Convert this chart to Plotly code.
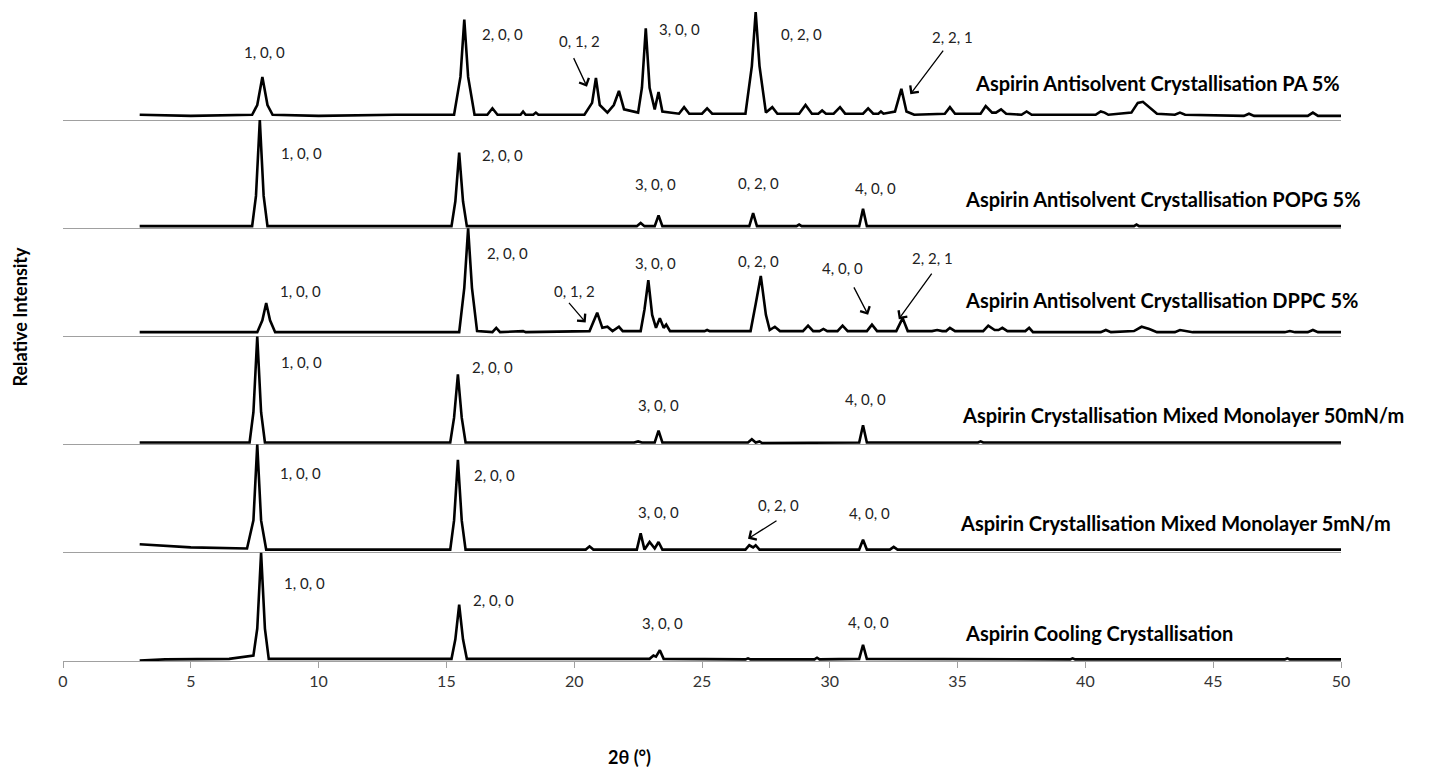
import plotly.graph_objects as go

# ---------------- data (2theta in degrees, relative intensity 0-1 per pattern) ----------------
series_names = [
    "Aspirin Cooling Crystallisation",
    "Aspirin Crystallisation Mixed Monolayer 5mN/m",
    "Aspirin Crystallisation Mixed Monolayer 50mN/m",
    "Aspirin Antisolvent Crystallisation DPPC 5%",
    "Aspirin Antisolvent Crystallisation POPG 5%",
    "Aspirin Antisolvent Crystallisation PA 5%",
]

cool_x = [3.0, 4.0, 6.5, 7.45, 7.6, 7.75, 7.9, 8.05, 15.2, 15.35, 15.5, 15.65, 15.8, 22.95, 23.1, 23.2,
          23.35, 23.5, 26.7, 26.8, 26.9, 29.4, 29.5, 29.6, 31.15, 31.3, 31.45, 39.4, 39.5, 39.6,
          47.8, 47.9, 48.0, 50.0]
cool_y = [0.005, 0.015, 0.02, 0.05, 0.3, 1.0, 0.3, 0.02, 0.02, 0.2, 0.52, 0.2, 0.02, 0.02, 0.05, 0.04,
          0.10, 0.02, 0.015, 0.025, 0.015, 0.015, 0.03, 0.015, 0.02, 0.15, 0.02, 0.015, 0.025, 0.015,
          0.015, 0.025, 0.015, 0.015]

mm5_x = [3.0, 4.0, 5.0, 7.2, 7.45, 7.6, 7.75, 7.95, 12.0, 15.15, 15.3, 15.45, 15.6, 15.75, 20.45,
         20.6, 20.75, 22.45, 22.6, 22.75, 22.95, 23.15, 23.3, 23.45, 26.7, 26.85, 27.0, 27.1, 27.25,
         31.15, 31.3, 31.45, 32.35, 32.5, 32.65, 50.0]
mm5_y = [0.08, 0.065, 0.05, 0.04, 0.3, 1.0, 0.3, 0.03, 0.03, 0.03, 0.3, 0.86, 0.3, 0.03, 0.03,
         0.06, 0.03, 0.03, 0.18, 0.03, 0.10, 0.04, 0.10, 0.03, 0.03, 0.07, 0.05, 0.07, 0.03,
         0.03, 0.12, 0.03, 0.03, 0.055, 0.03, 0.03]

mm50_x = [3.0, 7.3, 7.45, 7.6, 7.75, 7.9, 15.15, 15.3, 15.45, 15.6, 15.75, 22.35, 22.5, 22.65,
          23.15, 23.3, 23.45, 26.8, 26.95, 27.1, 27.25, 27.35, 31.15, 31.3, 31.45, 35.8, 35.9,
          36.0, 50.0]
mm50_y = [0.02, 0.02, 0.3, 1.0, 0.3, 0.02, 0.02, 0.25, 0.65, 0.25, 0.02, 0.02, 0.03, 0.02,
          0.02, 0.13, 0.02, 0.02, 0.05, 0.02, 0.03, 0.015, 0.02, 0.18, 0.02, 0.02, 0.03,
          0.02, 0.02]

dppc_x = [3.0, 7.6, 7.8, 7.95, 8.1, 8.3, 15.5, 15.7, 15.85, 16.0, 16.2, 16.8, 16.95, 17.1, 18.0,
          18.1, 20.6, 20.9, 21.1, 21.3, 21.5, 21.75, 21.9, 22.6, 22.75, 22.9, 23.05, 23.2, 23.35,
          23.5, 23.6, 23.75, 25.1, 25.2, 25.3, 26.9, 27.1, 27.3, 27.5, 27.65, 27.85, 28.05, 28.95,
          29.15, 29.35, 29.6, 29.75, 29.9, 30.3, 30.5, 30.7, 31.45, 31.65, 31.85, 32.6, 32.85,
          33.05, 34.0, 34.2, 34.4, 34.55, 34.7, 34.9, 36.0, 36.2, 36.45, 36.6, 36.75, 36.95,
          37.65, 37.8, 37.95, 40.6, 40.8, 41.0, 41.9, 42.2, 42.5, 42.8, 43.5, 43.7, 43.9, 44.2,
          47.8, 48.0, 48.2, 48.7, 48.9, 49.1, 50.0]
dppc_y = [0.04, 0.04, 0.15, 0.31, 0.15, 0.04, 0.04, 0.45, 1.0, 0.45, 0.05, 0.04, 0.08, 0.04, 0.05,
          0.04, 0.05, 0.22, 0.08, 0.09, 0.05, 0.09, 0.05, 0.05, 0.25, 0.52, 0.2, 0.08, 0.17,
          0.08, 0.11, 0.05, 0.05, 0.06, 0.05, 0.05, 0.3, 0.56, 0.2, 0.06, 0.09, 0.05, 0.05,
          0.10, 0.05, 0.05, 0.07, 0.05, 0.05, 0.10, 0.05, 0.05, 0.11, 0.05, 0.05, 0.17,
          0.05, 0.05, 0.06, 0.05, 0.05, 0.08, 0.05, 0.05, 0.10, 0.06, 0.06, 0.08, 0.05,
          0.05, 0.08, 0.04, 0.04, 0.06, 0.04, 0.05, 0.09, 0.07, 0.04, 0.04, 0.06, 0.05, 0.04,
          0.04, 0.05, 0.04, 0.04, 0.06, 0.04, 0.04]

popg_x = [3.0, 7.4, 7.55, 7.7, 7.85, 8.0, 15.2, 15.35, 15.5, 15.65, 15.8, 22.45, 22.6, 22.75,
          23.15, 23.3, 23.45, 26.85, 27.0, 27.15, 28.7, 28.8, 28.9, 31.15, 31.3, 31.45, 41.9,
          42.0, 42.1, 50.0]
popg_y = [0.02, 0.02, 0.3, 1.0, 0.3, 0.02, 0.02, 0.25, 0.70, 0.25, 0.02, 0.02, 0.05, 0.02,
          0.02, 0.12, 0.02, 0.02, 0.14, 0.02, 0.02, 0.035, 0.02, 0.02, 0.18, 0.02, 0.02,
          0.035, 0.02, 0.02]

pa_x = [3.0, 5.0, 7.4, 7.6, 7.8, 8.0, 8.2, 10.0, 13.0, 15.3, 15.55, 15.7, 15.85, 16.1, 16.6, 16.8,
        17.0, 17.9, 18.0, 18.1, 18.4, 18.5, 18.6, 20.4, 20.7, 20.85, 21.0, 21.3, 21.55, 21.75,
        21.95, 22.5, 22.65, 22.8, 22.95, 23.15, 23.3, 23.45, 24.1, 24.3, 24.5, 25.0, 25.2, 25.4,
        26.7, 26.95, 27.1, 27.25, 27.5, 27.75, 27.95, 28.8, 29.05, 29.3, 29.55, 29.7, 29.85,
        30.15, 30.4, 30.6, 31.3, 31.5, 31.7, 31.9, 32.0, 32.1, 32.55, 32.8, 33.0, 33.3, 34.5,
        34.7, 34.9, 35.9, 36.1, 36.35, 36.5, 36.7, 36.9, 37.5, 37.7, 37.9, 40.4, 40.6, 40.75,
        40.9, 41.8, 42.05, 42.25, 42.5, 42.8, 43.5, 43.7, 43.9, 46.2, 46.4, 46.6, 48.7, 48.9,
        49.1, 50.0]
pa_y = [0.05, 0.04, 0.05, 0.14, 0.40, 0.14, 0.05, 0.04, 0.05, 0.05, 0.4, 0.93, 0.4, 0.05, 0.05,
        0.11, 0.05, 0.05, 0.08, 0.05, 0.05, 0.07, 0.05, 0.05, 0.16, 0.39, 0.14, 0.07, 0.14, 0.27,
        0.10, 0.07, 0.3, 0.85, 0.3, 0.10, 0.26, 0.08, 0.06, 0.12, 0.06, 0.06, 0.11, 0.06,
        0.06, 0.5, 1.0, 0.5, 0.07, 0.12, 0.06, 0.06, 0.14, 0.06, 0.06, 0.09, 0.06,
        0.06, 0.12, 0.06, 0.06, 0.11, 0.06, 0.06, 0.08, 0.06, 0.08, 0.29, 0.08, 0.05, 0.06,
        0.12, 0.06, 0.06, 0.13, 0.07, 0.07, 0.10, 0.06, 0.05, 0.08, 0.05, 0.05, 0.08, 0.07,
        0.05, 0.07, 0.16, 0.17, 0.12, 0.06, 0.05, 0.07, 0.05, 0.04, 0.06, 0.04, 0.04, 0.07,
        0.04, 0.04]

patterns = [(cool_x, cool_y), (mm5_x, mm5_y), (mm50_x, mm50_y),
            (dppc_x, dppc_y), (popg_x, popg_y), (pa_x, pa_y)]

x_ticks = [0, 5, 10, 15, 20, 25, 30, 35, 40, 45, 50]

# peak labels: (pattern index, text, x, y-in-pattern)
peak_labels = [
    (5, "1, 0, 0", 7.9, 0.63), (5, "2, 0, 0", 17.2, 0.80), (5, "0, 1, 2", 20.2, 0.73),
    (5, "3, 0, 0", 24.1, 0.84), (5, "0, 2, 0", 28.9, 0.80), (5, "2, 2, 1", 34.8, 0.77),
    (4, "1, 0, 0", 9.35, 0.70), (4, "2, 0, 0", 17.2, 0.68), (4, "3, 0, 0", 23.2, 0.41),
    (4, "0, 2, 0", 27.2, 0.42), (4, "4, 0, 0", 31.8, 0.37),
    (3, "1, 0, 0", 9.3, 0.42), (3, "2, 0, 0", 17.4, 0.77), (3, "0, 1, 2", 20.0, 0.42),
    (3, "3, 0, 0", 23.2, 0.68), (3, "0, 2, 0", 27.2, 0.70), (3, "4, 0, 0", 30.5, 0.63),
    (3, "2, 2, 1", 34.0, 0.73),
    (2, "1, 0, 0", 9.35, 0.76), (2, "2, 0, 0", 16.8, 0.72), (2, "3, 0, 0", 23.3, 0.37),
    (2, "4, 0, 0", 31.4, 0.42),
    (1, "1, 0, 0", 9.3, 0.74), (1, "2, 0, 0", 16.9, 0.72), (1, "3, 0, 0", 23.3, 0.38),
    (1, "0, 2, 0", 28.0, 0.44), (1, "4, 0, 0", 31.55, 0.37),
    (0, "1, 0, 0", 9.45, 0.72), (0, "2, 0, 0", 16.85, 0.56), (0, "3, 0, 0", 23.45, 0.35),
    (0, "4, 0, 0", 31.5, 0.36),
]

# arrows: (pattern index, head x, head y-in-pattern, tail dx px, tail dy px)
peak_arrows = [
    (5, 20.5, 0.31, -14, -30),
    (5, 33.15, 0.24, 34, -45),
    (3, 20.45, 0.13, -18, -21),
    (3, 31.5, 0.20, -15, -29),
    (3, 32.7, 0.16, 34, -47),
    (1, 26.8, 0.13, 30, -19),
]

# series label positions (x left, y-in-pattern)
series_label_pos = [(35.2, 0.26), (35.0, 0.28), (35.1, 0.27), (35.2, 0.34), (35.2, 0.27), (35.6, 0.34)]

FONT = "Lato, 'Open Sans', sans-serif"

# ---------------- figure ----------------
fig = go.Figure()
for k, (xs, ys) in enumerate(patterns):
    fig.add_trace(go.Scatter(
        x=xs, y=[v + k for v in ys], mode="lines",
        line=dict(color="black", width=2.6), name=series_names[k],
        showlegend=False, hoverinfo="skip"))

ann = []
lab_font = dict(family=FONT, size=15, color="#222222")
for k, t, x, y in peak_labels:
    ann.append(dict(x=x, y=y + k, xref="x", yref="y", text=t, showarrow=False,
                    font=lab_font, xanchor="center", yanchor="middle"))
for k, x, y, dx, dy in peak_arrows:
    ann.append(dict(x=x, y=y + k, xref="x", yref="y", text="", showarrow=True,
                    ax=dx, ay=dy, arrowhead=4, arrowsize=1.6, arrowwidth=1.3,
                    arrowcolor="black", standoff=0))
for k, (x, y) in enumerate(series_label_pos):
    ann.append(dict(x=x, y=y + k, xref="x", yref="y", text="<b>" + series_names[k] + "</b>",
                    showarrow=False, xanchor="left", yanchor="middle",
                    font=dict(family=FONT, size=20, color="black")))
ann.append(dict(x=-0.034, y=0.53, xref="paper", yref="paper", text="<b>Relative Intensity</b>",
                textangle=-90, showarrow=False, xanchor="center", yanchor="middle",
                font=dict(family=FONT, size=18, color="black")))
ann.append(dict(x=0.443, y=-0.148, xref="paper", yref="paper", text="<b>2θ (°)</b>",
                showarrow=False, xanchor="center", yanchor="middle",
                font=dict(family=FONT, size=18, color="black")))

# page body has an 8px default margin; margins compensate so the plot area lands in place
fig.update_layout(
    width=1434, height=772,
    margin=dict(l=55, r=101, t=4, b=119),
    paper_bgcolor="white", plot_bgcolor="white",
    annotations=ann,
    xaxis=dict(range=[0, 50], tickvals=x_ticks, ticktext=[str(v) for v in x_ticks],
               showgrid=False, zeroline=False, showline=True, linecolor="#a0a0a0", linewidth=1,
               ticks="outside", ticklen=6, tickcolor="#a0a0a0",
               tickfont=dict(family=FONT, size=16, color="#333333")),
    yaxis=dict(range=[0, 6], tickvals=[1, 2, 3, 4, 5, 6], showticklabels=False,
               showgrid=True, gridcolor="#a0a0a0", gridwidth=1, zeroline=False,
               showline=False, ticks=""),
)

fig.write_html("out.html")
